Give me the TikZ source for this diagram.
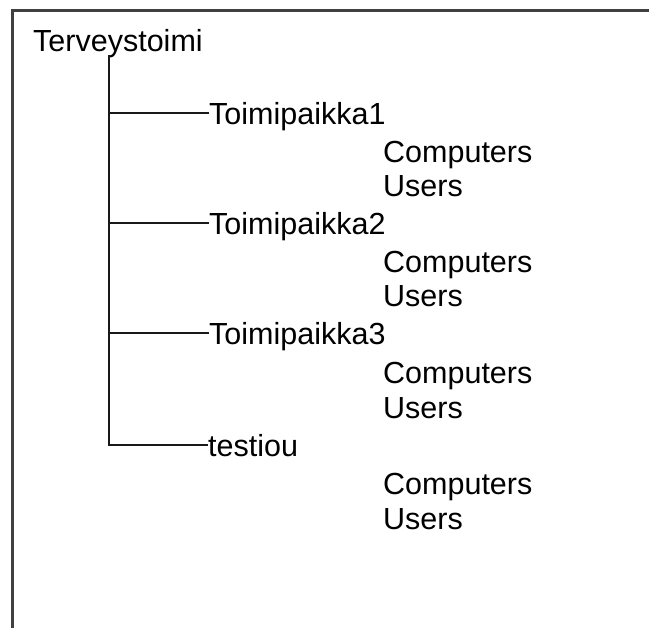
\documentclass[tikz,border=0pt]{standalone}
\usepackage{fontspec}
\setmainfont{Liberation Sans}
\begin{document}
\begin{tikzpicture}[x=1pt,y=-1pt,
  frame/.style={line width=3pt,draw=black!75},
  link/.style={line width=1.6pt,draw=black!90},
  lbl/.style={inner sep=0pt,anchor=base west,text height=24pt,text depth=0pt,
    font=\fontsize{30.5}{34}\selectfont},
]
\useasboundingbox (0,0) rectangle (649,628);
% open frame: left side and top edge
\draw[frame] (12,628) -- (12,10.5) -- (649,10.5);

% root
\node[lbl] (root) at (33,52) {Terveystoimi};

% branches
\node[lbl] (t1) at (209,125) {Toimipaikka1};
\node[lbl] (c1) at (383,163) {Computers};
\node[lbl] (u1) at (383,197) {Users};

\node[lbl] (t2) at (209,235) {Toimipaikka2};
\node[lbl] (c2) at (383,273) {Computers};
\node[lbl] (u2) at (383,307) {Users};

\node[lbl] (t3) at (209,345) {Toimipaikka3};
\node[lbl] (c3) at (383,384) {Computers};
\node[lbl] (u3) at (383,419) {Users};

\node[lbl] (t4) at (208,457) {testiou};
\node[lbl] (c4) at (383,495) {Computers};
\node[lbl] (u4) at (383,530) {Users};

% tree connectors
\coordinate (trunk) at (109,55);
\draw[link] (trunk) |- (t4.west);
\draw[link] (trunk |- t1.west) -- (t1.west);
\draw[link] (trunk |- t2.west) -- (t2.west);
\draw[link] (trunk |- t3.west) -- (t3.west);
\end{tikzpicture}
\end{document}
